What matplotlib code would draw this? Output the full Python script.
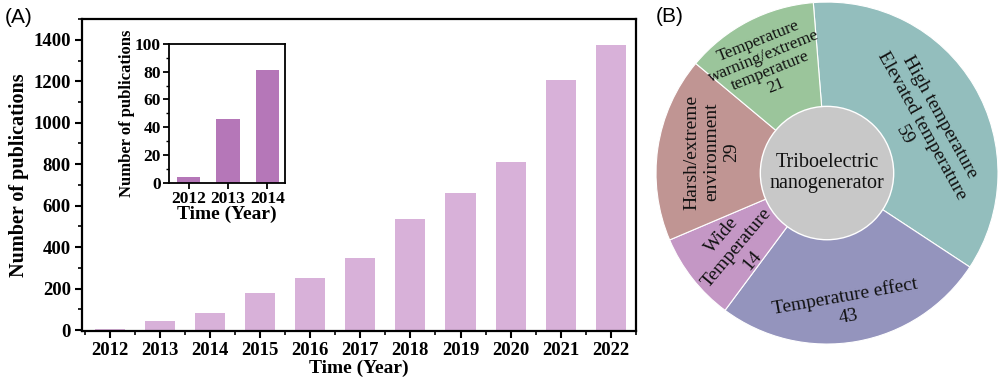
import matplotlib
matplotlib.use("Agg")
import matplotlib.pyplot as plt
from matplotlib.ticker import MultipleLocator
from matplotlib.patches import Circle

# ---- data ----
years = [2012, 2013, 2014, 2015, 2016, 2017, 2018, 2019, 2020, 2021, 2022]
pubs = [4, 46, 81, 181, 252, 348, 535, 662, 811, 1206, 1374]
inset_years = [2012, 2013, 2014]
inset_pubs = [4, 46, 81]

pie_labels = ["High temperature\nElevated temperature\n59",
              "Temperature effect\n43",
              "Wide\nTemperature\n14",
              "Harsh/extreme\nenvironment\n29",
              "Temperature\nwarning/extreme\ntemperature\n21"]
pie_values = [59, 43, 14, 29, 21]
pie_colors = ["#93BEBD", "#9494BD", "#C497C5", "#C09593", "#9BC59B"]
center_label = "Triboelectric\nnanogenerator"

serif = ["Liberation Serif", "DejaVu Serif"]
plt.rcParams["font.family"] = serif

fig = plt.figure(figsize=(10, 3.81), dpi=100)

# ---- main bar chart ----
ax = fig.add_axes([0.082, 0.131, 0.554, 0.819])
ax.bar(years, pubs, width=0.6, color="#D8B1D9")
ax.set_xlim(2011.45, 2022.5)
ax.set_ylim(-5, 1500)
ax.set_xticks(years)
ax.set_yticks(range(0, 1401, 200))
ax.xaxis.set_minor_locator(MultipleLocator(0.5))
ax.yaxis.set_minor_locator(MultipleLocator(100))
ax.tick_params(axis="both", which="major", direction="out", length=5, width=1.5,
               labelsize=13.5, pad=3)
ax.tick_params(axis="both", which="minor", direction="out", length=3, width=1.2)
for lab in ax.get_xticklabels() + ax.get_yticklabels():
    lab.set_fontweight("bold")
for s in ax.spines.values():
    s.set_linewidth(1.6)
ax.set_xlabel("Time (Year)", fontsize=14, fontweight="bold", labelpad=0)
ax.set_ylabel("Number of publications", fontsize=14.5, fontweight="bold", labelpad=3)

# ---- inset ----
ax2 = fig.add_axes([0.169, 0.52, 0.116, 0.365])
ax2.bar(inset_years, inset_pubs, width=0.6, color="#B577B8")
ax2.set_xlim(2011.5, 2014.45)
ax2.set_ylim(0, 100)
ax2.set_xticks(inset_years)
ax2.set_yticks(range(0, 101, 20))
ax2.yaxis.set_minor_locator(MultipleLocator(10))
ax2.tick_params(axis="both", which="major", direction="out", length=4, width=1.3,
                labelsize=12.5, pad=2)
ax2.tick_params(axis="y", which="minor", direction="out", length=2.5, width=1)
for lab in ax2.get_xticklabels() + ax2.get_yticklabels():
    lab.set_fontweight("bold")
for s in ax2.spines.values():
    s.set_linewidth(1.3)
ax2.set_xlabel("Time (Year)", fontsize=14, fontweight="bold", labelpad=-1)
ax2.set_ylabel("Number of publications", fontsize=12, fontweight="bold", labelpad=0)

# ---- pie ----
ax3 = fig.add_axes([0.656, 0.097, 0.342, 0.8976])
ax3.pie(pie_values, colors=pie_colors, startangle=94.6, counterclock=False,
        radius=1.0, wedgeprops=dict(width=0.62, edgecolor="white", linewidth=0.8))
ax3.add_patch(Circle((0, 0), 0.39, facecolor="#C8C8C8", edgecolor="white",
                     linewidth=1.0, zorder=5))
ax3.set_xlim(-1, 1)
ax3.set_ylim(-1, 1)
ax3.set_aspect("equal")
ax3.axis("off")

txt = dict(ha="center", va="center", color="#111111", linespacing=1.2,
           rotation_mode="anchor", zorder=6)
ax3.text(0, 0.0, center_label, fontsize=14.5, **txt)
ax3.text(0.556, 0.275, pie_labels[0], fontsize=14, rotation=-61, **txt)
ax3.text(0.117, -0.78, pie_labels[1], fontsize=14, rotation=10, **txt)
ax3.text(-0.526, -0.439, pie_labels[2], fontsize=14, rotation=50, **txt)
ax3.text(-0.673, 0.123, pie_labels[3], fontsize=14, rotation=90, **txt)
ax3.text(-0.351, 0.64, pie_labels[4], fontsize=12.5, rotation=22,
         **{**txt, "linespacing": 1.0})

# ---- panel labels ----
fig.text(0.005, 0.955, "(A)", fontsize=15, family=["Liberation Sans", "DejaVu Sans"],
         ha="left", va="center")
fig.text(0.656, 0.958, "(B)", fontsize=15, family=["Liberation Sans", "DejaVu Sans"],
         ha="left", va="center")

fig.savefig("out.png", dpi=100)
